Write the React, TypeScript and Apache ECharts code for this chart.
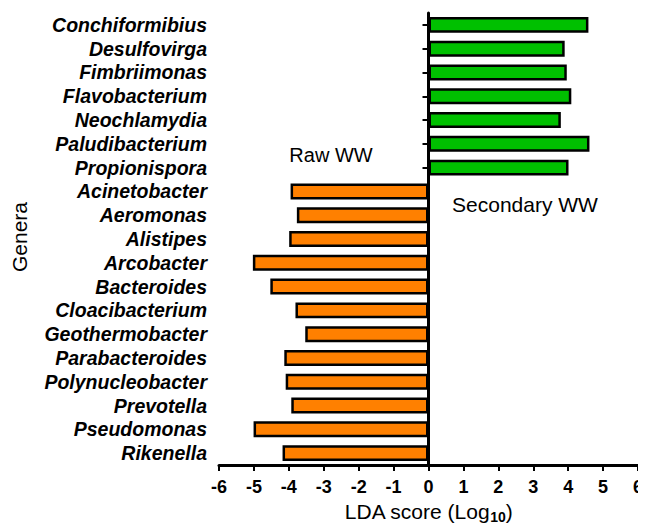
import React, { useEffect, useRef } from "react";
import * as echarts from "echarts";

const genera = [
  "Conchiformibius", "Desulfovirga", "Fimbriimonas", "Flavobacterium", "Neochlamydia",
  "Paludibacterium", "Propionispora", "Acinetobacter", "Aeromonas", "Alistipes",
  "Arcobacter", "Bacteroides", "Cloacibacterium", "Geothermobacter", "Parabacteroides",
  "Polynucleobacter", "Prevotella", "Pseudomonas", "Rikenella",
];
const secondaryWW: (number | null)[] = [4.58, 3.9, 3.96, 4.09, 3.79, 4.61, 4.01, null, null, null, null, null, null, null, null, null, null, null, null];
const rawWW: (number | null)[] = [null, null, null, null, null, null, null, -3.95, -3.77, -3.99, -5.03, -4.53, -3.81, -3.53, -4.13, -4.09, -3.93, -5.01, -4.18];
const xTicks = { min: -6, max: 6, interval: 1 };

const FONT = "Liberation Sans, Arial, Helvetica, sans-serif";

export default function App() {
  const ref = useRef<HTMLDivElement>(null);
  useEffect(() => {
    const chart = echarts.init(ref.current!, null, { renderer: "svg" });
    chart.setOption({
      animation: false,
      backgroundColor: "#ffffff",
      grid: { left: 219, right: 8, top: 13, bottom: 61, containLabel: false, outerBoundsMode: "none" },
      xAxis: {
        type: "value",
        min: xTicks.min,
        max: xTicks.max,
        interval: xTicks.interval,
        splitLine: { show: false },
        axisLine: { show: true, lineStyle: { color: "#000", width: 3 } },
        axisTick: { show: true, length: 6, lineStyle: { color: "#000", width: 2 } },
        axisLabel: { color: "#000", fontSize: 18, fontWeight: "bold", fontFamily: FONT, margin: 13 },
        name: "{a|LDA score (Log}{b|10}{a|)}",
        nameLocation: "middle",
        nameGap: 33,
        nameTextStyle: {
          rich: {
            a: { fontSize: 21, fontFamily: FONT, color: "#000", verticalAlign: "bottom", lineHeight: 24 },
            b: { fontSize: 14, fontFamily: FONT, color: "#000", fontWeight: "bold", verticalAlign: "bottom", lineHeight: 17, padding: [0, 0, -2, 0] },
          },
        },
      },
      yAxis: {
        type: "category",
        data: genera,
        inverse: true,
        axisLine: { show: true, lineStyle: { color: "#000", width: 3 } },
        axisTick: { show: true, alignWithLabel: true, length: 6, lineStyle: { color: "#000", width: 2 } },
        axisLabel: {
          interval: 0,
          color: "#000", fontSize: 19.5, fontWeight: "bold", fontStyle: "italic", fontFamily: FONT, margin: 12,
        },
      },
      graphic: [
        { type: "text", x: 19, y: 237, rotation: Math.PI / 2, style: { text: "Genera", font: `21px ${FONT}`, fill: "#000", align: "center", verticalAlign: "middle" } },
        { type: "text", x: 331, y: 155, style: { text: "Raw WW", font: `20px ${FONT}`, fill: "#000", align: "center", verticalAlign: "middle" } },
        { type: "text", x: 525, y: 204, style: { text: "Secondary WW", font: `21px ${FONT}`, fill: "#000", align: "center", verticalAlign: "middle" } },
      ],
      series: [
        {
          type: "bar",
          name: "Secondary WW",
          stack: "lda",
          data: secondaryWW,
          barWidth: "67%",
          itemStyle: { color: "#00C000", borderColor: "#000", borderWidth: 2.5 },
          markLine: {
            silent: true,
            symbol: "none",
            label: { show: false },
            lineStyle: { color: "#000", width: 3, type: "solid" },
            data: [{ xAxis: 0 }],
          },
        },
        {
          type: "bar",
          name: "Raw WW",
          stack: "lda",
          data: rawWW,
          barWidth: "67%",
          itemStyle: { color: "#FF8000", borderColor: "#000", borderWidth: 2.5 },
        },
      ],
    });
    return () => chart.dispose();
  }, []);
  return <div ref={ref} style={{ width: 646, height: 526, marginLeft: -8, marginTop: -8 }} />;
}
